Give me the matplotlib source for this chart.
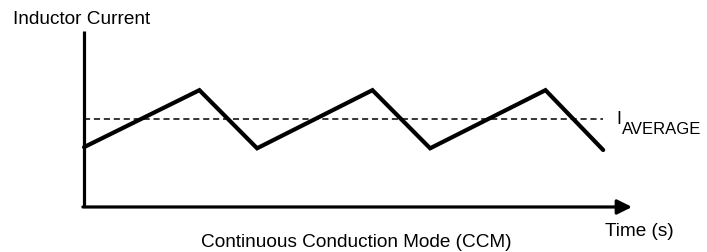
import matplotlib
matplotlib.use("Agg")
import matplotlib.pyplot as plt

plt.rcParams['font.family'] = ['Liberation Sans', 'DejaVu Sans']

# inductor current waveform (arbitrary units)
time = [0, 2, 3, 5, 6, 8, 9]
current = [1.05, 2.05, 1.03, 2.05, 1.03, 2.05, 1.0]
i_average = 1.55
avg_span = [0, 9.0]

fig = plt.figure(figsize=(7.07, 2.53), dpi=100)
ax = fig.add_axes([0, 0, 1, 1])
ax.set_xlim(-1.457, 10.80)
ax.set_ylim(-0.79, 3.65)
ax.axis('off')

# axes drawn by hand (y line + x arrow)
ax.plot([0, 0], [0, 3.09], color='black', lw=2.3, solid_capstyle='butt')
ax.annotate('', xy=(9.5, 0), xytext=(-0.02, 0),
            arrowprops=dict(arrowstyle='-|>', lw=2.3, color='black',
                            mutation_scale=22, shrinkA=0, shrinkB=0))

ax.plot(avg_span, [i_average, i_average], color='black', lw=1.1, ls=(0, (4, 2.5)))
ax.plot(time, current, color='black', lw=3.0, solid_capstyle='round', solid_joinstyle='miter')

fs = 13.7
fig.text(13 / 707, 1 - 19 / 253, 'Inductor Current', fontsize=fs, va='center', ha='left')
fig.text(356 / 707, 1 - 243 / 253, 'Continuous Conduction Mode (CCM)', fontsize=fs, va='center', ha='center')
fig.text(639 / 707, 1 - 232 / 253, 'Time (s)', fontsize=fs, va='center', ha='center')
fig.text(616 / 707, 1 - 120 / 253, 'I', fontsize=13, va='center', ha='left')
fig.text(622 / 707, 1 - 129 / 253, 'AVERAGE', fontsize=12, va='center', ha='left')

fig.savefig('out.png', dpi=100)
